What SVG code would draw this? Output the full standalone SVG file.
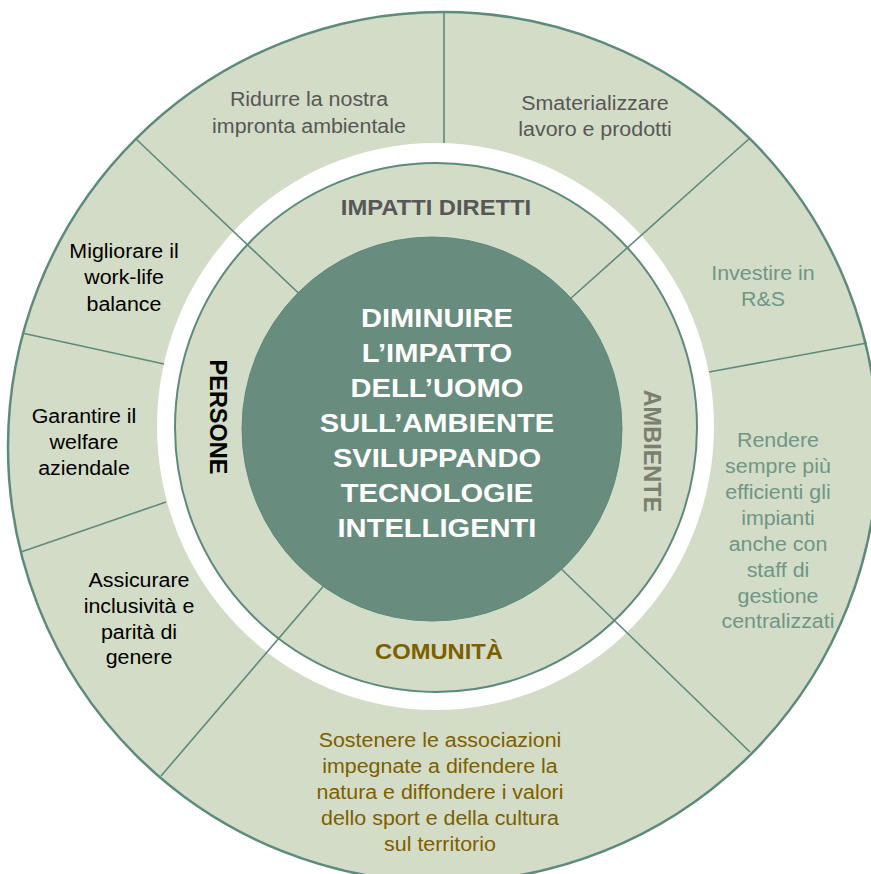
<svg xmlns="http://www.w3.org/2000/svg" width="871" height="874" viewBox="0 0 871 874">
<style>
  text { font-family: "Liberation Sans", Arial, sans-serif; text-anchor: middle; }
  .t { font-size: 20px; transform-box: fill-box; transform-origin: center; transform: scaleX(1.07); }
  .b { font-size: 22px; font-weight: bold; transform-box: fill-box; transform-origin: center; transform: scaleX(1.08); }
  .m { font-size: 26px; font-weight: bold; fill: #ffffff; transform-box: fill-box; transform-origin: center; transform: scaleX(1.12); }
  .v { font-size: 23.5px; font-weight: bold; }
  .gray { fill: #575757; }
  .blk { fill: #000000; }
  .teal { fill: #6F9686; }
  .brown { fill: #7D5F00; }
  .olive { fill: #7B7F6E; }
  .light { fill: #D3DCC6; }
  .edge { stroke: #5E8A7B; }
  #dividers line { stroke: #5E8A7B; stroke-width: 1.6; }
</style>

<g id="rings">
  <circle cx="443" cy="447" r="435" class="light edge" stroke-width="2.5"/>
  <ellipse cx="435.5" cy="426.5" rx="278.5" ry="283.5" fill="#ffffff"/>
  <ellipse cx="436" cy="427.5" rx="261" ry="264.5" class="light edge" stroke-width="2"/>
</g>

<g id="dividers">
  <line x1="444" y1="12" x2="444" y2="143"/>
  <line x1="136" y1="139" x2="310" y2="304"/>
  <line x1="750" y1="138" x2="560" y2="308"/>
  <line x1="709" y1="372" x2="867" y2="343"/>
  <line x1="22" y1="333" x2="164" y2="364"/>
  <line x1="21" y1="552" x2="166" y2="502"/>
  <line x1="161" y1="776" x2="333" y2="575"/>
  <line x1="750" y1="752" x2="550" y2="558"/>
</g>

<g id="center">
  <ellipse cx="432" cy="429" rx="190" ry="192" fill="#688C7E" stroke="#5E8A7B" stroke-width="1"/>
  <text class="m" x="437" y="327">DIMINUIRE</text>
  <text class="m" x="437" y="362">L’IMPATTO</text>
  <text class="m" x="437" y="397">DELL’UOMO</text>
  <text class="m" x="437" y="432">SULL’AMBIENTE</text>
  <text class="m" x="437" y="467">SVILUPPANDO</text>
  <text class="m" x="437" y="502">TECNOLOGIE</text>
  <text class="m" x="437" y="537">INTELLIGENTI</text>
</g>

<g id="impatti-diretti">
  <text class="b gray" x="436" y="215">IMPATTI DIRETTI</text>
</g>
<g id="persone">
  <text class="v blk" transform="translate(210,417) rotate(90)">PERSONE</text>
</g>
<g id="ambiente">
  <text class="v olive" transform="translate(644,451) rotate(90)">AMBIENTE</text>
</g>
<g id="comunita">
  <text class="b brown" x="439" y="659">COMUNITÀ</text>
</g>

<g id="ridurre">
  <text class="t gray" x="309" y="106">Ridurre la nostra</text>
  <text class="t gray" x="309" y="133">impronta ambientale</text>
</g>
<g id="smaterializzare">
  <text class="t gray" x="595" y="110">Smaterializzare</text>
  <text class="t gray" x="595" y="136">lavoro e prodotti</text>
</g>
<g id="migliorare">
  <text class="t blk" x="124" y="258">Migliorare il</text>
  <text class="t blk" x="124" y="284">work-life</text>
  <text class="t blk" x="124" y="311">balance</text>
</g>
<g id="garantire">
  <text class="t blk" x="84" y="423">Garantire il</text>
  <text class="t blk" x="84" y="449">welfare</text>
  <text class="t blk" x="84" y="475">aziendale</text>
</g>
<g id="assicurare">
  <text class="t blk" x="139" y="587">Assicurare</text>
  <text class="t blk" x="139" y="613">inclusività e</text>
  <text class="t blk" x="139" y="639">parità di</text>
  <text class="t blk" x="139" y="664">genere</text>
</g>
<g id="investire">
  <text class="t teal" x="763" y="280">Investire in</text>
  <text class="t teal" x="763" y="306">R&amp;S</text>
</g>
<g id="rendere">
  <text class="t teal" x="778" y="447">Rendere</text>
  <text class="t teal" x="778" y="473">sempre più</text>
  <text class="t teal" x="778" y="499">efficienti gli</text>
  <text class="t teal" x="778" y="525">impianti</text>
  <text class="t teal" x="778" y="551">anche con</text>
  <text class="t teal" x="778" y="577">staff di</text>
  <text class="t teal" x="778" y="603">gestione</text>
  <text class="t teal" x="778" y="628">centralizzati</text>
</g>
<g id="sostenere">
  <text class="t brown" x="440" y="747">Sostenere le associazioni</text>
  <text class="t brown" x="440" y="773">impegnate a difendere la</text>
  <text class="t brown" x="440" y="799">natura e diffondere i valori</text>
  <text class="t brown" x="440" y="825">dello sport e della cultura</text>
  <text class="t brown" x="440" y="851">sul territorio</text>
</g>
</svg>
